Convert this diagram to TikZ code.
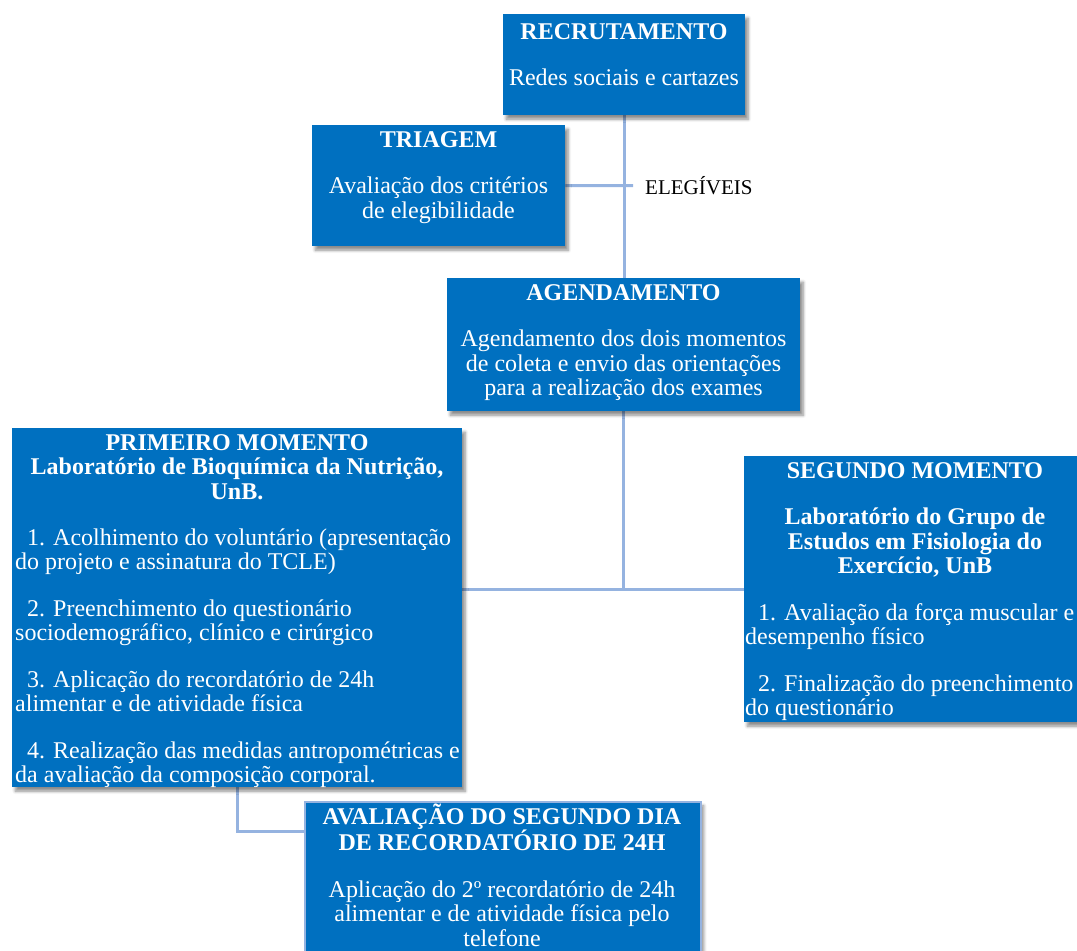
\documentclass[tikz,border=0pt]{standalone}
\usepackage{fontspec}
\setmainfont{Liberation Serif}
\usetikzlibrary{shadows,shadows.blur,calc}
\definecolor{boxblue}{RGB}{0,112,192}
\definecolor{lineblue}{RGB}{149,179,224}
\pgfdeclarelayer{bg}
\pgfsetlayers{bg,main}
\newcommand{\tl}{\rule{0pt}{22pt}}
\begin{document}
\begin{tikzpicture}[x=1pt,y=-1pt,
  box/.style={fill=boxblue, draw=none, inner sep=0pt, anchor=north west,
    blur shadow={shadow xshift=3pt, shadow yshift=-4pt, shadow opacity=45, shadow blur steps=6, shadow blur radius=3pt}},
  txt/.style={text=white, inner sep=0pt, font=\fontsize{24}{24.5}\selectfont},
  ctxt/.style={txt, anchor=north, align=center},
  btxt/.style={ctxt, font=\fontsize{24}{24.5}\selectfont\bfseries},
  ltxt/.style={txt, anchor=north west, align=left},
  conn/.style={draw=lineblue, line width=3pt}]
\useasboundingbox (0,0) rectangle (1077,951);

% boxes
\node[box, minimum width=242pt, minimum height=101pt] (rec) at (503,14) {};
\node[box, minimum width=253pt, minimum height=121pt] (tri) at (312,125) {};
\node[box, minimum width=353pt, minimum height=133pt] (agd) at (447,278) {};
\node[box, minimum width=450pt, minimum height=359pt] (prim) at (12,428) {};
\node[box, minimum width=342pt, minimum height=266pt] (seg) at (744,456) {};
\node[box, draw=lineblue, line width=1.5pt, minimum width=396pt, minimum height=152pt] (ava) at (304,801) {};

% texts
\node[ctxt] (recT) at (624,17) {\tl\textbf{RECRUTAMENTO}\\[22pt]Redes sociais e cartazes};
\node[ctxt] (triT) at (438.5,125) {\tl\textbf{TRIAGEM}\\[22pt]Avaliação dos critérios\\de elegibilidade};
\node[anchor=base west, inner sep=0pt, font=\fontsize{21}{24}\selectfont] (elg) at (645,194) {ELEGÍVEIS};
\node[ctxt] (agdT) at (623.5,278) {\tl\textbf{AGENDAMENTO}\\[22pt]Agendamento dos dois momentos\\de coleta e envio das orientações\\para a realização dos exames};
\node[btxt] (primT) at (237,428) {\tl PRIMEIRO MOMENTO\\Laboratório de Bioquímica da Nutrição,\\UnB.};
\node[ltxt] (primB) at (15,523) {\tl\hspace*{12pt}1. Acolhimento do voluntário (apresentação\\do projeto e assinatura do TCLE)\\[22pt]\hspace*{12pt}2. Preenchimento do questionário\\sociodemográfico, clínico e cirúrgico\\[22pt]\hspace*{12pt}3. Aplicação do recordatório de 24h\\alimentar e de atividade física\\[22pt]\hspace*{12pt}4. Realização das medidas antropométricas e\\da avaliação da composição corporal.};
\node[btxt] (segT) at (915,456) {\tl SEGUNDO MOMENTO\\[22pt]Laboratório do Grupo de\\Estudos em Fisiologia do\\Exercício, UnB};
\node[ltxt] (segB) at (745,598) {\tl\hspace*{13pt}1. Avaliação da força muscular e\\desempenho físico\\[22pt]\hspace*{13pt}2. Finalização do preenchimento\\do questionário};
\node[ctxt] (avaT) at (502,802) {\tl\textbf{AVALIAÇÃO DO SEGUNDO DIA}\\\textbf{DE RECORDATÓRIO DE 24H}\\[22pt]Aplicação do 2º recordatório de 24h\\alimentar e de atividade física pelo\\telefone};

% connectors
\coordinate (elgEnd) at (633,185.5);
\coordinate (avaIn) at (304,831);
\begin{pgfonlayer}{bg}
\draw[conn] (rec.south) -- (rec.south |- agd.north);
\draw[conn] (tri.east) -- (elgEnd);
\draw[conn] (agd.south) -- (agd.south |- seg.west);
\draw[conn] (prim.east |- seg.west) -- (seg.west);
\draw[conn] (prim.south) |- (avaIn);
\end{pgfonlayer}
\end{tikzpicture}
\end{document}
